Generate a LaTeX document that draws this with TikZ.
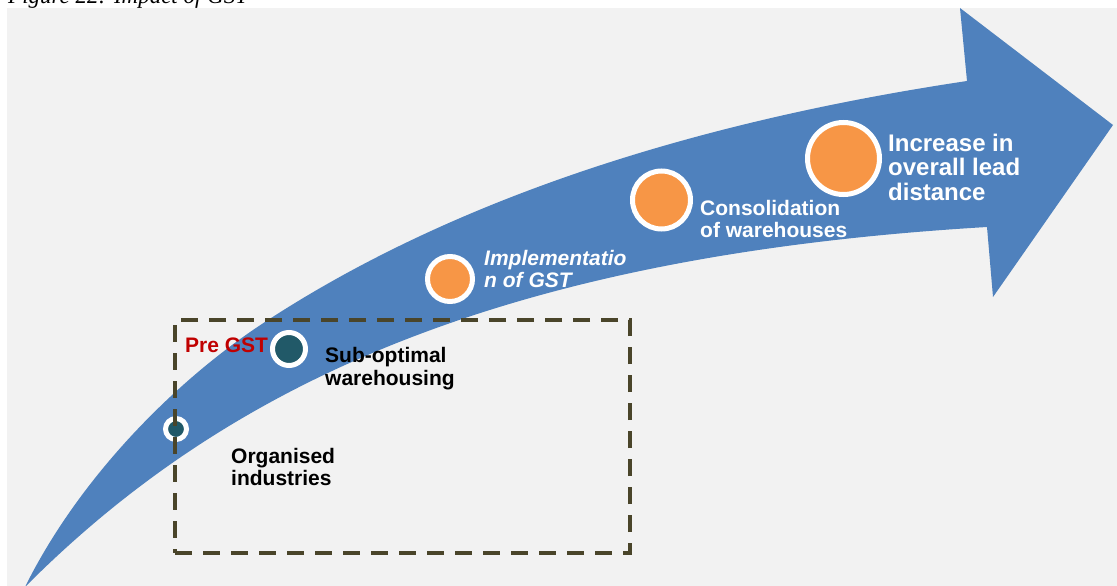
\documentclass[tikz,border=0pt]{standalone}
\usepackage{fontspec}
\setmainfont{Liberation Sans}
\newfontfamily\capfont{Liberation Serif}
\definecolor{bgc}{HTML}{F2F2F2}
\definecolor{arrowblue}{HTML}{4F81BD}
\definecolor{dotorange}{HTML}{F79646}
\definecolor{dotteal}{HTML}{215968}
\definecolor{boxline}{HTML}{4A452A}
\definecolor{pregst}{HTML}{C00000}
\begin{document}
\begin{tikzpicture}[x=1pt,y=-1pt,
  dot/.style={circle,draw=white,line width=5pt,inner sep=0pt},
  lbl/.style={anchor=base west,align=left,inner sep=0pt,font=\bfseries\fontsize{21}{22}\selectfont},
  lblbig/.style={anchor=base west,align=left,inner sep=0pt,font=\bfseries\fontsize{24}{24.5}\selectfont},
  dashbox/.style={draw=boxline,line width=4pt,dash pattern=on 17pt off 11pt}
]
\useasboundingbox (0,0) rectangle (1117,586);
\fill[bgc] (7,8) rectangle (1117,586);
\node[anchor=base west,inner sep=0pt,font=\capfont\itshape\fontsize{23}{26}\selectfont] (cap) at (8,3.5) {Figure 22: Impact of GST};
% curved arrow
\coordinate (tail) at (25,587);
\coordinate (bend) at (268,320);
\coordinate (notchT) at (967,81);
\coordinate (barbT) at (960,8);
\coordinate (tip) at (1113,125);
\coordinate (barbB) at (993,297);
\coordinate (notchB) at (987,227);
\fill[arrowblue] (tail) .. controls (80,476) and (178,378) .. (bend)
  .. controls (468,190) and (717,118.5) .. (notchT)
  -- (barbT) -- (tip) -- (barbB) -- (notchB)
  .. controls (517,255) and (235,376) .. (tail) -- cycle;
% dots
\node[dot,fill=dotorange,minimum size=72pt] (c5) at (843.5,158.5) {};
\node[dot,fill=dotorange,minimum size=58pt] (c4) at (661.5,200) {};
\node[dot,fill=dotorange,minimum size=45pt] (c3) at (450,279) {};
\node[dot,fill=dotteal,minimum size=33pt] (c2) at (289,349) {};
\node[dot,fill=dotteal,minimum size=21pt] (c1) at (176,429) {};
% dashed box
\node[dashbox,minimum width=455pt,minimum height=233pt,inner sep=0pt] (box) at (402.5,436.5) {};
% labels (anchor = baseline of last line)
\node[lblbig,text=white] (t5) at (888,200) {Increase in\\overall lead\\distance};
\node[lbl,text=white] (t4) at (700,237) {Consolidation\\of warehouses};
\node[lbl,text=white,font=\bfseries\itshape\fontsize{21}{22}\selectfont] (t3) at (484,287) {Implementatio\\n of GST};
\node[lbl,text=black,font=\bfseries\fontsize{21}{22.5}\selectfont] (t2) at (325,385) {Sub-optimal\\warehousing};
\node[lbl,text=pregst] (pre) at (185,352.7) {Pre GST};
\node[lbl,text=black] (t1) at (231,485.7) {Organised\\industries};
\end{tikzpicture}
\end{document}
